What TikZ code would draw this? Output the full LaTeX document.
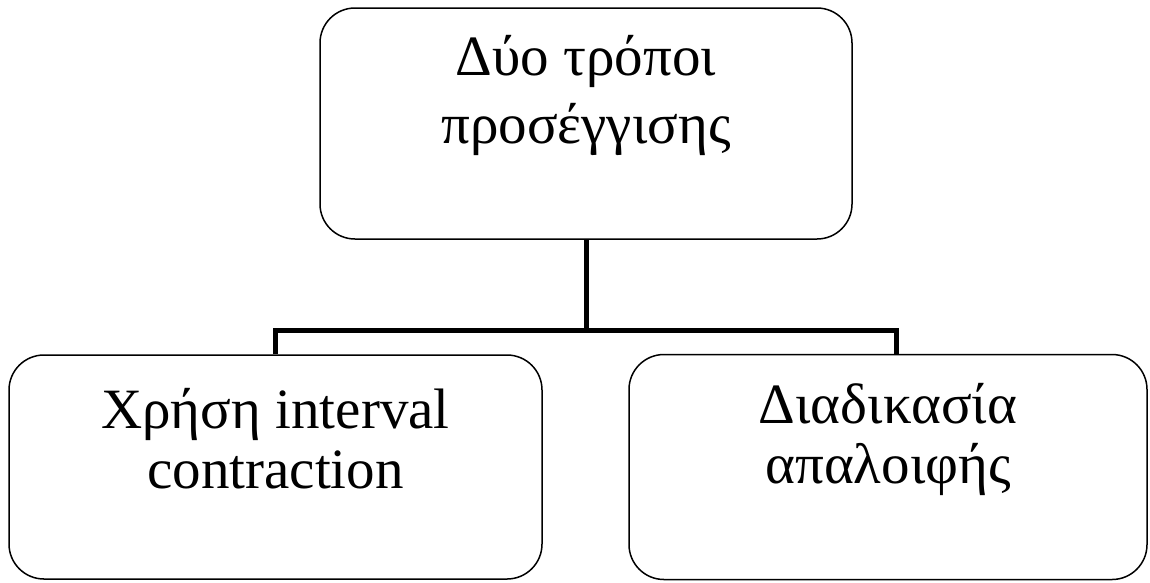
\documentclass[tikz,border=0pt]{standalone}
\usepackage{fontspec}
\setmainfont{Liberation Serif}
\usepackage{xcolor}
\usetikzlibrary{positioning}

\tikzset{
	box/.style={draw,rounded corners=35,line width=1.5,minimum width=#1},
	conn/.style={line width=5,line join=miter},
	label/.style={anchor=base,align=center,font=\fontsize{57}{#1}\selectfont}
}

\begin{document}
\begin{tikzpicture}[x=1pt,y=-1pt]
	\useasboundingbox (0,0) rectangle (1150,582);
	% (boxes)
	\node[box=532,minimum height=231] (top) at (586,123.5) {};
	\node[box=533,minimum height=224] (left) at (275.5,467) {};
	\node[box=518,minimum height=225] (right) at (888,467) {};
	% (texts, base = last line)
	\node[label=68] (toptext) at (586,143) {Δύο τρόποι\\προσέγγισης};
	\node[label=60] (lefttext) at (275.5,488) {Χρήση interval\\contraction};
	\node[label=60] (righttext) at (888,483) {Διαδικασία\\απαλοιφής};
	% (connectors)
	\coordinate (busL) at (275,330);
	\coordinate (busR) at (896,330);
	\draw[conn] (top.south) -- (top.south |- busL);
	\draw[conn] (left.north -| busL) -- (busL) -- (busR) -- (right.north -| busR);
\end{tikzpicture}
\end{document}
